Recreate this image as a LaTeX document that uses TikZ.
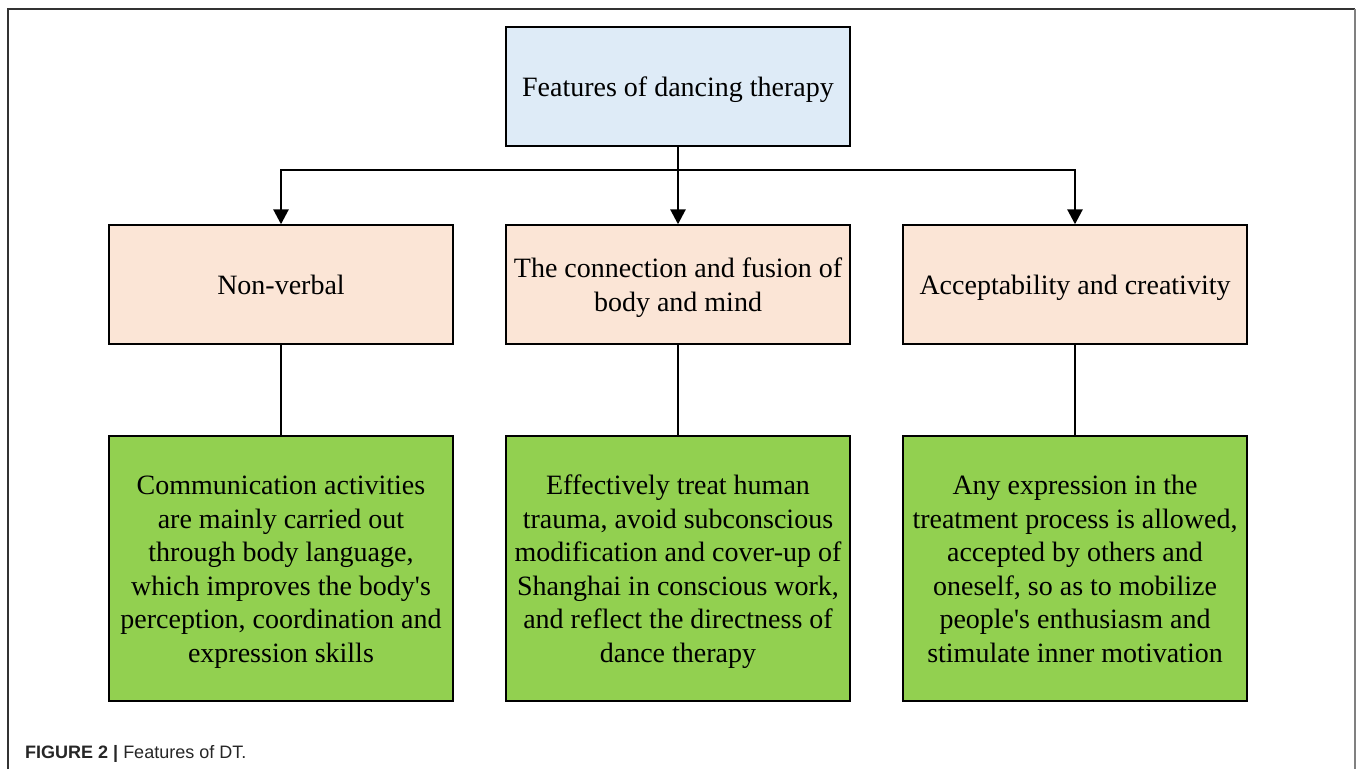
\documentclass[tikz,border=0pt]{standalone}
\usepackage{fontspec}
\setmainfont{Liberation Serif}
\newfontfamily\capfont{Liberation Sans}
\usetikzlibrary{arrows.meta}
\definecolor{topblue}{HTML}{DEEBF7}
\definecolor{midpeach}{HTML}{FBE5D6}
\definecolor{lowgreen}{HTML}{92D050}
\newcommand\dnstrut[1][26pt]{\rule{0pt}{#1}}
\newcommand\apo{\textquotesingle}
\tikzset{
  box/.style={draw=black, line width=1.4pt, minimum width=344pt, inner sep=0pt, align=center,
    font=\fontsize{28}{33.5}\selectfont},
  topbox/.style={box, fill=topblue, minimum height=119pt},
  midbox/.style={box, fill=midpeach, minimum height=119pt},
  lowbox/.style={box, fill=lowgreen, minimum height=265pt},
  conn/.style={line width=2.8pt, black},
  arr/.style={conn, -{Triangle[length=15pt,width=15pt]}}
}
\begin{document}
\begin{tikzpicture}[x=1pt,y=-1pt]
\useasboundingbox (0,0) rectangle (1360,769);
\fill[white] (0,0) rectangle (1360,769);
% outer frame
\draw[line width=1.5pt, black!80] (8,769) -- (8,9) -- (1355,9);
\draw[line width=1.5pt, black!50] (1355,9) -- (1355,769);
% nodes
\node[topbox] (top) at (678,86.5) {\dnstrut Features of dancing therapy};
\node[midbox] (m1) at (281,284.5) {Non-verbal};
\node[midbox] (m2) at (678,284.5) {\dnstrut The connection and fusion of\\body and mind};
\node[midbox] (m3) at (1075,284.5) {\dnstrut Acceptability and creativity};
\node[lowbox] (g1) at (281,568.5) {\dnstrut Communication activities\\are mainly carried out\\through body language,\\which improves the body\apo s\\perception, coordination and\\expression skills};
\node[lowbox] (g2) at (678,568.5) {\dnstrut Effectively treat human\\trauma, avoid subconscious\\modification and cover-up of\\Shanghai in conscious work,\\and reflect the directness of\\dance therapy};
\node[lowbox] (g3) at (1075,568.5) {\dnstrut[20pt]Any expression in the\\treatment process is allowed,\\accepted by others and\\oneself, so as to mobilize\\people\apo s enthusiasm and\\stimulate inner motivation};
\coordinate (hb) at (678,170);
% connectors
\draw[arr] (top.south) -- (m2.north);
\draw[arr] (hb) -| (m1.north);
\draw[arr] (hb) -| (m3.north);
\draw[conn] (m1.south) -- (g1.north);
\draw[conn] (m2.south) -- (g2.north);
\draw[conn] (m3.south) -- (g3.north);
% caption
\node[anchor=base west, inner sep=0pt, font=\capfont\fontsize{18}{20}\selectfont, text=black!85] (cap) at (25,758) {\textbf{FIGURE 2 |} Features of DT.};
\end{tikzpicture}
\end{document}
